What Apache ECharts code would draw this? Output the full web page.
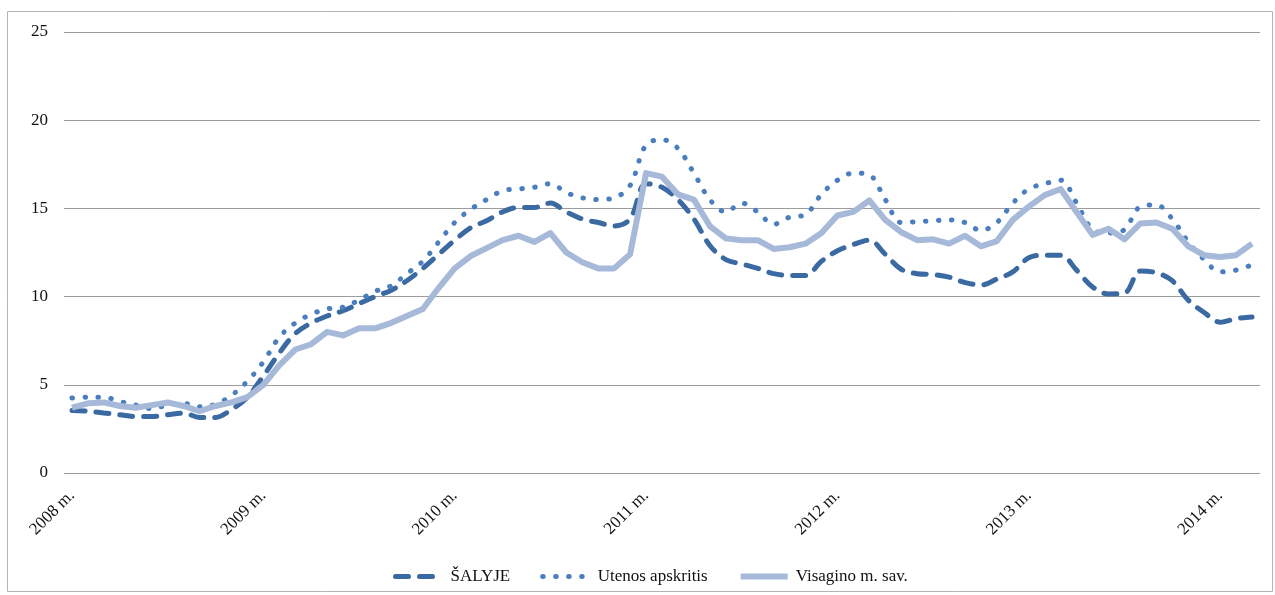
<!DOCTYPE html>
<html>
<head>
<meta charset="utf-8">
<script src="https://cdn.jsdelivr.net/npm/echarts@6/dist/echarts.min.js"></script>
<style>
  html, body { margin: 0; padding: 0; background: #fff; }
  #chart { width: 1275px; height: 595px; }
</style>
</head>
<body>
<div id="chart"></div>
<script>
// metai (kas mėnesį nuo 2008-01 iki 2014-03)
const years = ['2008', '2009', '2010', '2011', '2012', '2013', '2014']
const monthCount = 75

const seriesNames = ['ŠALYJE', 'Utenos apskritis', 'Visagino m. sav.']

const salyje = [
  3.55, 3.5, 3.4, 3.3, 3.2, 3.2, 3.3, 3.4, 3.15, 3.15, 3.6, 4.3,
  5.5, 6.8, 7.9, 8.5, 8.9, 9.2, 9.6, 10.0, 10.35, 10.9, 11.6, 12.4,
  13.2, 13.9, 14.3, 14.8, 15.05, 15.05, 15.3, 14.8, 14.4, 14.2, 14.0, 14.4,
  16.4, 16.2, 15.5, 14.4, 12.9, 12.1, 11.85, 11.6, 11.3, 11.2, 11.2, 12.0,
  12.6, 12.95, 13.2, 12.4, 11.55, 11.3, 11.25, 11.1, 10.8, 10.65, 11.0, 11.4,
  12.2, 12.35, 12.35, 11.5, 10.55, 10.15, 10.2, 11.45, 11.35, 10.9, 9.8, 9.1,
  8.55, 8.75, 8.85
]

const utenos = [
  4.25, 4.3, 4.3, 4.05, 3.85, 3.65, 3.85, 3.95, 3.75, 3.9, 4.4, 5.2,
  6.3, 7.7, 8.5, 9.0, 9.3, 9.4, 9.8, 10.3, 10.6, 11.3, 12.0, 13.1,
  14.2, 14.95, 15.5, 16.0, 16.1, 16.2, 16.4, 15.9, 15.6, 15.5, 15.6, 16.3,
  18.6, 18.9, 18.4, 17.0, 15.5, 14.8, 15.3, 14.8, 14.1, 14.5, 14.65, 15.8,
  16.6, 17.0, 16.9, 15.5, 14.2, 14.25, 14.3, 14.35, 14.2, 13.75, 14.2, 15.3,
  16.1, 16.4, 16.6, 15.3, 13.8, 13.6, 13.8, 15.1, 15.2, 14.4, 13.1, 12.1,
  11.4, 11.5, 11.8
]

const visagino = [
  3.7, 3.95, 4.0, 3.8, 3.7, 3.85, 4.0, 3.8, 3.5, 3.8, 4.0, 4.3,
  5.0, 6.1, 7.0, 7.3, 8.0, 7.8, 8.2, 8.2, 8.5, 8.9, 9.3, 10.5,
  11.6, 12.3, 12.75, 13.2, 13.45, 13.1, 13.6, 12.5, 11.95, 11.6, 11.6, 12.4,
  17.0, 16.8, 15.8, 15.5, 14.0, 13.3, 13.2, 13.2, 12.7, 12.8, 13.0, 13.6,
  14.6, 14.8, 15.45, 14.35, 13.65, 13.2, 13.25, 13.0, 13.45, 12.85, 13.15, 14.35,
  15.1, 15.75, 16.1, 14.8, 13.5, 13.85, 13.25, 14.15, 14.2, 13.85, 12.85, 12.35,
  12.25, 12.35, 13.0
]

// spalvos
const darkBlue = '#3b6aa3'
const midBlue = '#4a7ebf'
const lightBlue = '#a6b9d9'
const fontFamily = '"Liberation Serif", "DejaVu Serif", serif'

// mėnesių kategorijos
const categories = []
years.forEach(y => {
  for (let m = 1; m <= 12; m++) categories.push(y + '-' + m)
})
categories.length = monthCount

const myChart = echarts.init(document.getElementById('chart'))

const option = {
  animation: false,
  graphic: [
    {
      type: 'rect',
      silent: true,
      shape: { x: 7.5, y: 11.5, width: 1265, height: 580 },
      style: { fill: 'none', stroke: '#b4b4b4', lineWidth: 1 }
    }
  ],
  grid: {
    left: 64,
    right: 15,
    top: 32,
    bottom: 122
  },
  legend: {
    left: 388,
    top: 563,
    itemWidth: 47,
    itemHeight: 16,
    itemGap: 30,
    itemStyle: { opacity: 0 },
    textStyle: {
      fontFamily: fontFamily,
      fontSize: 17,
      color: '#111',
      padding: [0, 0, 0, 3]
    },
    data: [
      { name: seriesNames[0], lineStyle: { width: 5 } },
      { name: seriesNames[1], lineStyle: { width: 5 } },
      { name: seriesNames[2], lineStyle: { width: 6 } }
    ]
  },
  xAxis: {
    type: 'category',
    data: categories,
    boundaryGap: true,
    axisLine: { show: false },
    axisTick: { show: false },
    axisLabel: {
      interval: 11,
      rotate: 45,
      margin: 20,
      fontFamily: fontFamily,
      fontSize: 17,
      color: '#111',
      formatter: v => v.split('-')[0] + ' m.'
    },
    splitLine: { show: false }
  },
  yAxis: {
    type: 'value',
    min: 0,
    max: 25,
    interval: 5,
    axisLine: { show: false },
    axisTick: { show: false },
    axisLabel: {
      margin: 16,
      fontFamily: fontFamily,
      fontSize: 17,
      color: '#111'
    },
    splitLine: {
      lineStyle: { color: '#9c9c9c', width: 1 }
    }
  },
  series: [
    {
      name: seriesNames[0],
      type: 'line',
      data: salyje,
      symbol: 'none',
      smooth: 0.35,
      lineStyle: {
        color: darkBlue,
        width: 5,
        type: [13, 11],
        cap: 'round'
      },
      itemStyle: { color: darkBlue }
    },
    {
      name: seriesNames[1],
      type: 'line',
      data: utenos,
      symbol: 'none',
      smooth: 0.35,
      lineStyle: {
        color: midBlue,
        width: 5,
        type: [0.5, 12.5],
        cap: 'round'
      },
      itemStyle: { color: midBlue }
    },
    {
      name: seriesNames[2],
      type: 'line',
      data: visagino,
      symbol: 'none',
      lineStyle: {
        color: lightBlue,
        width: 6,
        join: 'round'
      },
      itemStyle: { color: lightBlue }
    }
  ]
}

myChart.setOption(option)
window.addEventListener('resize', () => myChart.resize())
</script>
</body>
</html>
